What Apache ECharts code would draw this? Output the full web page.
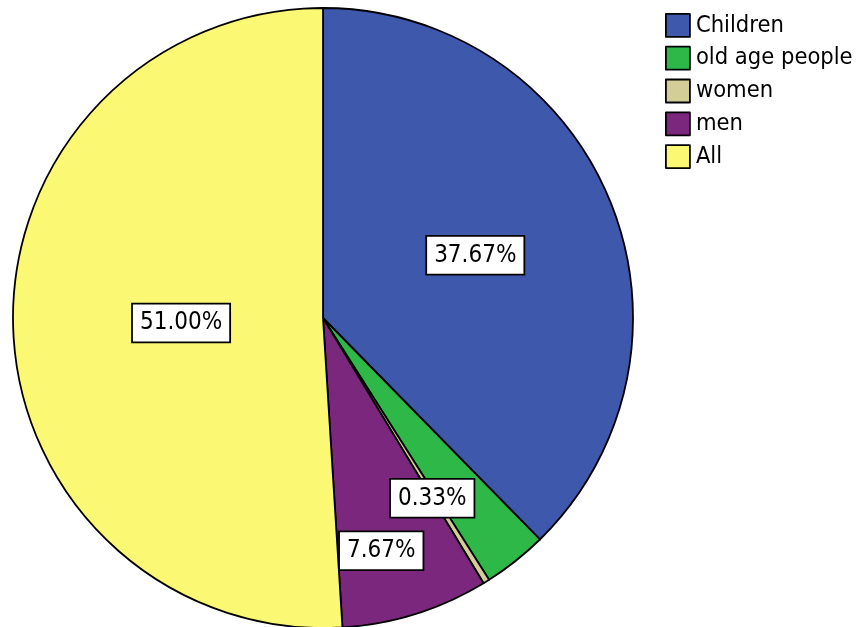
<!DOCTYPE html>
<html>
<head>
<meta charset="utf-8">
<script src="https://cdn.jsdelivr.net/npm/echarts@6/dist/echarts.min.js"></script>
<style>
html,body{margin:0;padding:0;background:#fff;}
#chart{width:857px;height:627px;}
</style>
</head>
<body>
<div id="chart"></div>
<script>
// Data (counts; percentages of a total of 300)
const categories = ['Children', 'old age people', 'women', 'men', 'All'];
const counts = [113, 10, 1, 23, 153];
const showLabel = [true, false, true, true, true];

// Styles
const colors = ['#3E58AC', '#2EB848', '#D3CE97', '#7C277E', '#FBF873'];
const labelShift = [[6, -3], [0, 0], [26, 46], [11, 82], [16, 0]];
const FONT = '"DejaVu Sans Condensed", "DejaVu Sans", sans-serif';

const total = counts.reduce((a, b) => a + b, 0);

const chart = echarts.init(document.getElementById('chart'), null, {renderer: 'canvas'});
chart.setOption({
  animation: false,
  color: colors,
  legend: {
    orient: 'vertical',
    left: 665,
    top: 13,
    padding: 0,
    itemWidth: 24,
    itemHeight: 23,
    itemGap: 8,
    icon: 'rect',
    selectedMode: false,
    data: categories,
    itemStyle: {borderColor: '#000', borderWidth: 1.8},
    textStyle: {fontFamily: FONT, fontSize: 23.5, color: '#000', padding: [0, 0, 0, 1]}
  },
  series: [{
    type: 'pie',
    center: [323, 318],
    radius: [0, 310],
    startAngle: 90,
    clockwise: true,
    avoidLabelOverlap: false,
    percentPrecision: 2,
    emphasis: {disabled: true},
    itemStyle: {borderColor: '#000', borderWidth: 1.8},
    label: {
      position: 'inside',
      fontFamily: FONT,
      fontSize: 24,
      color: '#000',
      backgroundColor: '#fff',
      borderColor: '#000',
      borderWidth: 1.8,
      padding: [7, 7, 6, 7],
      formatter: p => (p.value / total * 100).toFixed(2) + '%'
    },
    labelLine: {show: false},
    labelLayout: p => ({dx: labelShift[p.dataIndex][0], dy: labelShift[p.dataIndex][1]}),
    data: categories.map((c, i) => ({
      name: c,
      value: counts[i],
      label: {show: showLabel[i]}
    }))
  }]
});
</script>
</body>
</html>
